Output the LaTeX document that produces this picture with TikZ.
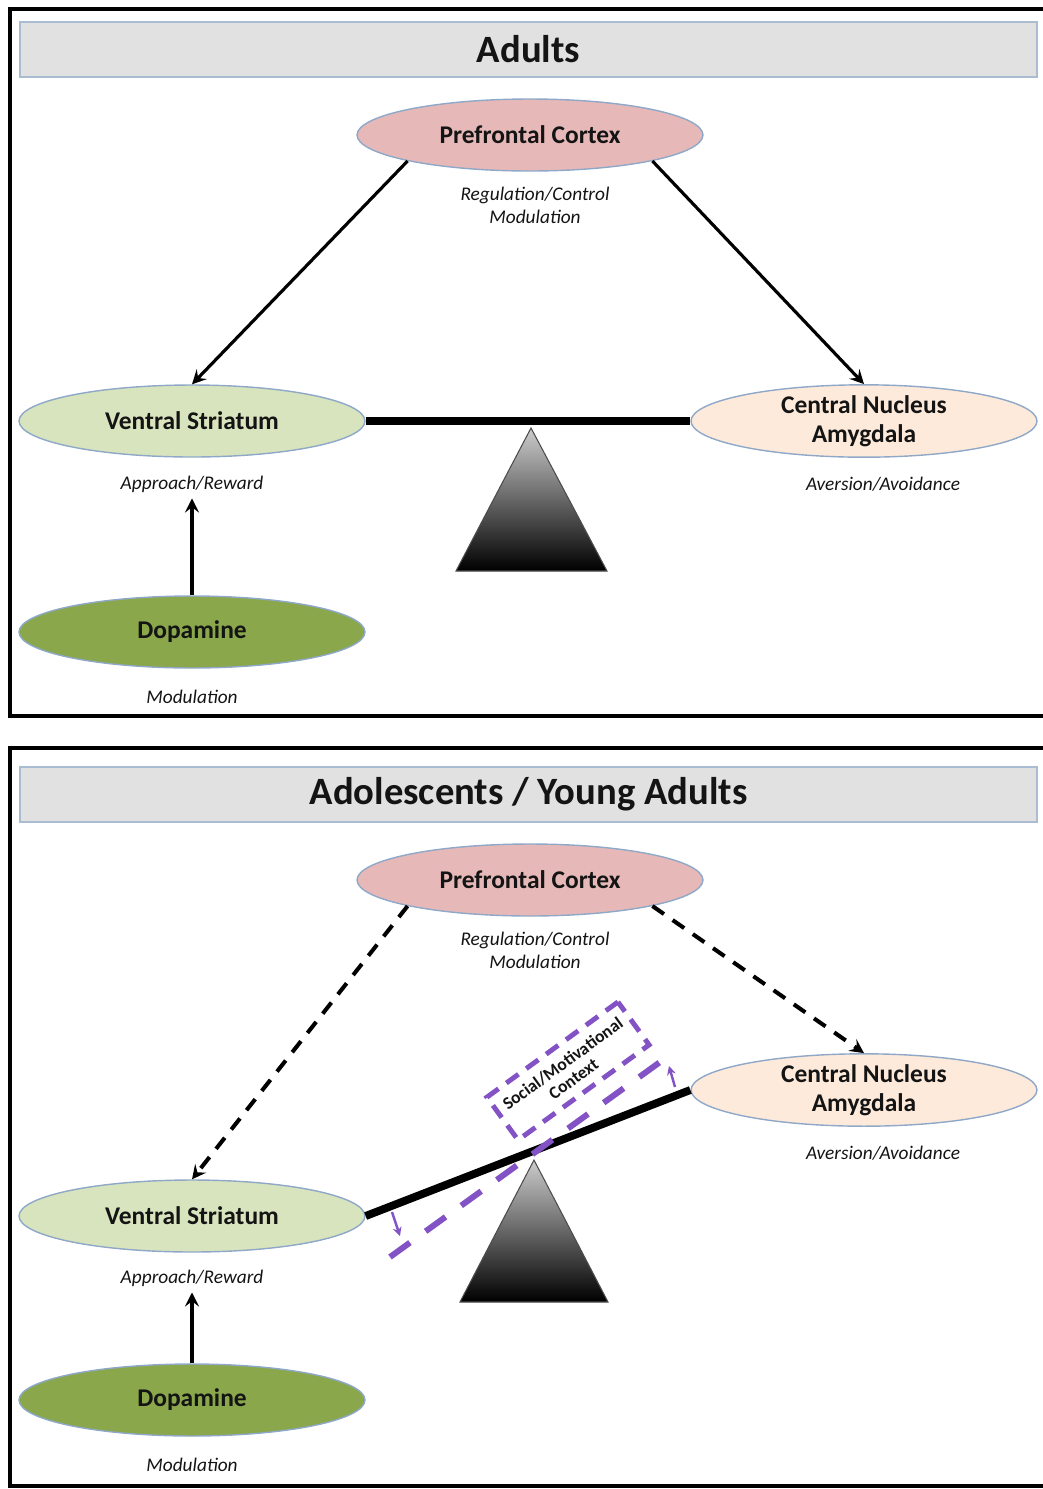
\documentclass[tikz,border=0pt]{standalone}
\usepackage{fontspec}
\setmainfont{Carlito}
\usepackage{tikz}
\usetikzlibrary{arrows.meta,shapes.geometric}
\definecolor{pfcpink}{HTML}{E6B9B8}
\definecolor{vsgreen}{HTML}{D7E4BD}
\definecolor{dagreen}{HTML}{8AA74C}
\definecolor{cepeach}{HTML}{FDEADA}
\definecolor{rim}{HTML}{8FA8C8}
\definecolor{barfill}{HTML}{E1E1E1}
\definecolor{barrim}{HTML}{A9BCD2}
\definecolor{ink}{HTML}{141414}
\definecolor{ctx}{HTML}{8352C4}

\begin{document}
\begin{tikzpicture}[x=0.02cm,y=-0.02cm,
  >={Stealth[length=8pt,width=8pt,inset=3pt]},
  region/.style={ellipse,draw=rim,line width=0.8pt,minimum width=6.92cm,minimum height=1.44cm,inner sep=0pt,align=center,font=\fontsize{14.5}{16.5}\selectfont\bfseries,text=ink},
  role/.style={font=\fontsize{11}{13}\selectfont\itshape,text=ink,align=center},
  bar/.style={draw=barrim,fill=barfill,line width=1pt,minimum width=20.34cm,minimum height=1.1cm,inner sep=0pt,font=\fontsize{22}{26}\selectfont\bfseries,text=ink},
  frame/.style={line width=2.8pt},
  link/.style={->,line width=1.8pt},
  weak/.style={->,line width=2.3pt,dash pattern=on 8pt off 6pt},
  beam/.style={line width=4.5pt},
  pivot/.style={draw=gray!60!black,line width=0.6pt,top color=gray!40,bottom color=black},
  tilt/.style={draw=ctx,line width=3.4pt,dash pattern=on 14pt off 11pt},
  ctxbox/.style={draw=ctx,line width=2.8pt,dash pattern=on 8.5pt off 5.5pt,minimum width=3.24cm,minimum height=1.06cm,inner sep=0pt,align=center,font=\fontsize{10}{10.5}\selectfont\bfseries,text=ink},
  nudge/.style={draw=ctx,line width=1.4pt,-{Stealth[length=5pt,width=5pt]}}
]
\useasboundingbox (0,0) rectangle (1043,1489);

% adults
\draw[frame] (10,9) rectangle (1060,716);
\node[bar] (hdr) at (528.5,49.5) {Adults};
\node[region,fill=pfcpink] (pfc) at (530,135) {Prefrontal Cortex};
\node[role] (pfcl) at (535,205) {Regulation/Control\\Modulation};
\node[region,fill=vsgreen] (vs) at (192,421) {Ventral Striatum};
\node[role] (vsl) at (192,484) {Approach/Reward};
\node[region,fill=cepeach] (ce) at (864,421) {Central Nucleus\\Amygdala};
\node[role] (cel) at (883,484) {Aversion/Avoidance};
\node[region,fill=dagreen] (da) at (192,632) {Dopamine};
\node[role] (dal) at (192,697) {Modulation};
\draw[link] (pfc.192) -- (vs.north);
\draw[link] (pfc.348) -- (ce.north);
\draw[link] (da) -- (vsl);
\draw[beam] (vs.east) -- (ce.west);
\shadedraw[pivot] (531,428) -- (607,571) -- (456,571) -- cycle;

% adolescents / young adults
\draw[frame] (10,748) rectangle (1060,1486);
\node[bar] (hdr2) at (528.5,794.5) {Adolescents / Young Adults};
\node[region,fill=pfcpink] (pfc2) at (530,880) {Prefrontal Cortex};
\node[role] (pfcl2) at (535,950) {Regulation/Control\\Modulation};
\node[region,fill=cepeach] (ce2) at (864,1090) {Central Nucleus\\Amygdala};
\node[role] (cel2) at (883,1153) {Aversion/Avoidance};
\node[region,fill=vsgreen] (vs2) at (192,1216) {Ventral Striatum};
\node[role] (vsl2) at (192,1278) {Approach/Reward};
\node[region,fill=dagreen] (da2) at (192,1400) {Dopamine};
\node[role] (dal2) at (192,1465) {Modulation};
\draw[weak] (pfc2.192) -- (vs2.north);
\draw[weak] (pfc2.348) -- (ce2.north);
\draw[link] (da2) -- (vsl2);
\draw[beam] (vs2.east) -- (ce2.west);
\shadedraw[pivot] (534,1160) -- (608,1302) -- (460,1302) -- cycle;
\coordinate (t1) at (390,1257); \coordinate (t2) at (667,1057);
\draw[tilt] (t1) -- (t2);
\coordinate (n1) at (392,1212); \coordinate (n1e) at (400,1236);
\coordinate (n2) at (675,1087); \coordinate (n2e) at (669,1066);
\draw[nudge] (n1) -- (n1e);
\draw[nudge] (n2) -- (n2e);
\node[ctxbox,rotate=36] (ctxt) at (568,1071) {Social/Motivational\\Context};
\end{tikzpicture}
\end{document}
